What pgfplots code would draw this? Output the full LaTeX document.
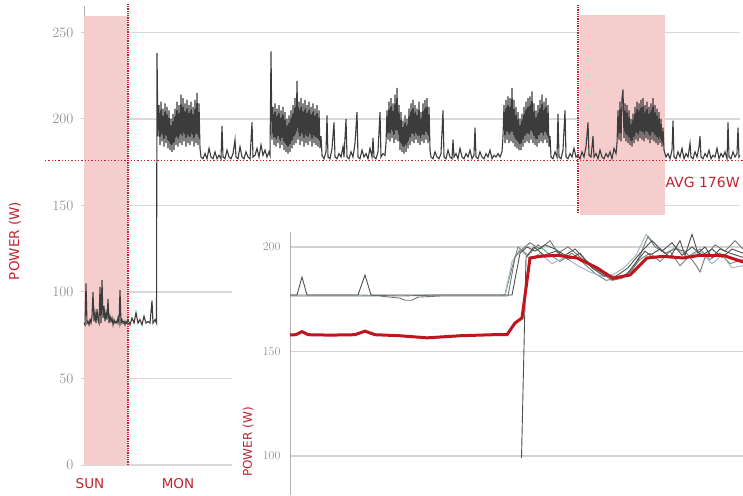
\documentclass[border=0pt]{standalone}
\usepackage{fontspec}
\usepackage{pgfplots}
\pgfplotsset{compat=1.18}
\newfontfamily\labelfont{DejaVu Sans}
\definecolor{lblred}{HTML}{C0232F}
\definecolor{dotred}{HTML}{C8202C}
\definecolor{shade}{HTML}{F5CDCD}
\definecolor{series}{HTML}{3C3C3C}
\definecolor{thickred}{HTML}{C0141E}
\definecolor{g1}{HTML}{505050}
\definecolor{g2}{HTML}{767676}
\definecolor{g3}{HTML}{6D8C7A}
\definecolor{g4}{HTML}{A0B4C0}
\begin{document}
\begin{tikzpicture}[x=1pt,y=1pt]
\path[use as bounding box] (0,0) rectangle (743,495);
\clip (0,0) rectangle (743,495);
% ---------------- main axis ----------------
\begin{axis}[at={(84pt,30pt)}, anchor=south west, scale only axis,
  width=656pt, height=458.5pt,
  xmin=84, xmax=740, ymin=0, ymax=265,
  hide x axis, xtick=\empty, axis y line*=left,
  y axis line style={gray!60, line width=0.8pt},
  ytick={0,50,100,150,200,250},
  ymajorgrids, grid style={gray!30, line width=1.2pt},
  tick align=outside, major tick length=3pt,
  ytick style={gray!40, line width=1pt},
  yticklabel style={text=gray!85, font=\fontsize{14}{14}\selectfont, xshift=-4pt},
  clip=false]
% shaded periods
\addplot[draw=none, fill=shade, forget plot] coordinates {(84,0) (84,259.5) (128,259.5) (128,0)} --cycle;
\addplot[draw=none, fill=shade, forget plot] coordinates {(580,144.5) (580,260) (665,260) (665,144.5)} --cycle;
% power series
\addplot[series, line width=1.1pt] coordinates {
(84,82) (85,81) (86,105) (87,82) (88,83) (89,81) (90,84) (91,82) (92,86) (93,100) (94,83) (95,88) (96,82) (97,90) (98,84) (99,82) (100,103) (101,82) (102,107) (103,85) (104,92) (105,83) (106,88) (107,84) (108,96) (109,82) (110,86) (111,83) (112,85) (113,81) (114,84) (115,82) (116,83) (117,82) (118,85) (119,82) (120,101) (121,82) (122,84) (123,82) (124,83) (125,81) (126,83) (127,82) (128,84) (130,81) (132,85) (134,82) (136,88) (138,82) (140,84) (142,81) (144,86) (146,82) (148,83) (150,82) (152,95) (153,82) (155,84) (156.5,82) (157,238)
(158,190) (159,208) (160,185) (161,210) (162,187) (163,206) (164,184) (165,209) (166,186) (167,207) (168,183) (169,205) (170,182) (171,200) (172,181) (173,203) (174,182) (175,206) (176,185) (177,210) (178,184) (179,208) (180,186) (181,214) (182,185) (183,212) (184,187) (185,209) (186,184) (187,211) (188,186) (189,208) (190,185) (191,210) (192,187) (193,207) (194,184) (195,211) (196,186) (197,215) (198,185) (199,209) (200,183)
(201,178) (203,177) (205,180) (207,177) (209,183) (211,178) (213,177) (215,181) (217,177) (219,179) (221,177) (222,196) (223,178) (225,177) (227,182) (229,178) (231,177) (233,180) (235,188) (236,178) (238,177) (240,184) (242,178) (244,177) (246,181) (248,178) (250,177) (252,198) (253,178) (255,179) (257,183) (259,178) (261,185) (263,179) (265,182) (267,178) (269,181) (270,179) (271,239)
(272,188) (273,207) (274,185) (275,209) (276,184) (277,206) (278,186) (279,208) (280,183) (281,205) (282,185) (283,207) (284,182) (285,204) (286,181) (287,200) (288,180) (289,202) (290,181) (291,205) (292,183) (293,208) (294,185) (295,212) (296,186) (297,222) (298,188) (299,210) (300,185) (301,212) (302,187) (303,209) (304,184) (305,211) (306,186) (307,208) (308,185) (309,210) (310,187) (311,207) (312,184) (313,209) (314,186) (315,206) (316,185) (317,208) (318,184) (319,205) (320,183) (321,190) (322,179)
(324,177) (326,181) (327,202) (328,178) (330,177) (332,183) (334,198) (335,178) (337,177) (339,180) (341,178) (343,184) (344,178) (346,200) (347,178) (349,177) (351,181) (353,178) (355,186) (357,204) (358,178) (360,177) (362,182) (364,178) (366,180) (368,177) (370,183) (372,178) (373,189) (374,178) (376,177) (378,181) (380,204) (381,178) (383,180) (385,179)
(386,186) (387,205) (388,188) (389,210) (390,187) (391,212) (392,189) (393,209) (394,186) (395,214) (396,188) (397,218) (398,187) (399,208) (400,182) (401,204) (402,181) (403,199) (404,180) (405,202) (406,181) (407,200) (408,183) (409,206) (410,185) (411,209) (412,187) (413,211) (414,186) (415,208) (416,188) (417,206) (418,186) (419,210) (420,185) (421,204) (422,187) (423,209) (424,186) (425,211) (426,188) (427,212) (428,186) (429,207) (430,182)
(431,178) (433,177) (435,181) (437,178) (439,177) (441,180) (443,205) (444,178) (446,177) (448,182) (450,178) (452,177) (453,188) (454,178) (456,180) (458,177) (460,183) (462,178) (464,177) (466,180) (468,178) (470,182) (472,177) (474,179) (475,195) (476,178) (478,177) (480,181) (482,178) (484,177) (486,180) (488,178) (490,182) (492,177) (494,179) (496,178) (498,180) (500,178) (502,181)
(503,190) (504,208) (505,186) (506,211) (507,188) (508,213) (509,186) (510,212) (511,187) (512,218) (513,186) (514,211) (515,184) (516,207) (517,183) (518,204) (519,182) (520,200) (521,182) (522,203) (523,184) (524,207) (525,186) (526,210) (527,187) (528,212) (529,186) (530,213) (531,188) (532,216) (533,186) (534,209) (535,185) (536,205) (537,184) (538,208) (539,186) (540,211) (541,187) (542,214) (543,186) (544,210) (545,188) (546,212) (547,186) (548,208) (549,184) (550,190)
(551,178) (553,177) (555,181) (557,178) (558,203) (559,178) (561,177) (563,182) (565,205) (566,178) (568,177) (570,180) (572,178) (574,183) (576,178) (578,179) (580,177) (582,181) (584,178) (586,184) (588,198) (589,179) (591,178) (593,190) (594,178) (596,180) (598,177) (600,182) (602,178) (604,177) (606,180) (608,178) (610,181) (612,177) (614,183) (616,180)
(617,186) (618,205) (619,188) (620,210) (621,187) (622,212) (623,217) (624,189) (625,209) (626,187) (627,208) (628,186) (629,205) (630,185) (631,200) (632,184) (633,203) (634,186) (635,207) (636,188) (637,210) (638,187) (639,209) (640,189) (641,211) (642,188) (643,212) (644,187) (645,208) (646,189) (647,210) (648,188) (649,207) (650,186) (651,209) (652,188) (653,212) (654,187) (655,208) (656,186) (657,206) (658,185) (659,204) (660,186) (661,200) (662,184) (663,195) (664,182)
(666,178) (668,180) (670,177) (672,182) (673,199) (674,178) (676,177) (678,181) (680,178) (682,183) (684,177) (686,180) (688,178) (690,186) (691,178) (693,177) (695,181) (697,178) (699,184) (700,190) (701,178) (703,177) (705,180) (707,178) (709,182) (711,177) (713,179) (715,178) (717,183) (719,177) (721,180) (723,178) (725,181) (727,177) (728,198) (729,178) (731,177) (733,181) (735,178) (737,180) (738,195) (739,178) (740,179)
};
% average and day separators
\addplot[dotred, line width=1.3pt, dotted] coordinates {(45,176) (743,176)};
\addplot[dotred, line width=1.3pt, densely dotted] coordinates {(128,0) (128,266.5)};
\addplot[dotred, line width=1.3pt, densely dotted] coordinates {(578,145.7) (578,266.5)};
\end{axis}
\node[anchor=west, text=lblred, font=\labelfont\fontsize{14}{14}\selectfont] at (662,313) {AVG 176W};
\node[text=lblred, font=\labelfont\fontsize{13.5}{14}\selectfont] at (90,11) {SUN};
\node[text=lblred, font=\labelfont\fontsize{13.5}{14}\selectfont] at (178,11) {MON};
\node[rotate=90, text=lblred, font=\labelfont\fontsize{13.5}{14}\selectfont] at (15,254) {POWER (W)};
% ---------------- inset ----------------
\fill[white] (232,0) rectangle (743,263);
\begin{axis}[at={(290pt,0pt)}, anchor=south west, scale only axis,
  width=455pt, height=262.7pt,
  xmin=290, xmax=745, ymin=81.3, ymax=207,
  hide x axis, xtick=\empty, axis y line*=left,
  y axis line style={gray!60, line width=0.8pt},
  ytick={100,150,200},
  ymajorgrids, grid style={gray!35, line width=1.2pt},
  major tick length=0pt,
  yticklabel style={text=gray!85, font=\fontsize{12}{12}\selectfont, xshift=-6pt},
  clip=false]
\addplot[g3, line width=0.9pt] coordinates {(290,177) (320,177) (360,177) (400,176.5) (440,177) (480,177) (505,177) (512,190) (518,200) (528,196) (538,201) (548,197) (560,193) (572,197) (584,192) (596,187) (606,184) (618,185) (630,188) (640,194) (650,197) (660,193) (670,198) (680,191) (690,196) (700,199) (710,194) (720,197) (730,192) (743,194)};
\addplot[g4, line width=0.9pt] coordinates {(500,177) (505,177) (512,193) (520,199) (530,194) (540,197) (552,192) (565,195) (578,191) (590,188) (602,186) (614,187) (624,190) (636,196) (646,206) (656,201) (666,197) (676,200) (688,195) (700,198) (712,192) (722,196) (732,190) (743,191)};
\addplot[g2, line width=0.9pt] coordinates {(290,176.5) (330,176.5) (380,176.5) (400,175.5) (405,174.5) (412,174.5) (418,176) (440,176.5) (480,176.5) (508,176.5) (515,195) (520,198) (530,202) (540,199) (550,203) (558,197) (568,200) (578,196) (590,191) (600,188) (612,184) (622,185) (632,189) (640,196) (648,205) (655,200) (665,197) (675,199) (685,198) (695,192) (700,188) (705,195) (715,201) (725,198) (735,203) (743,199)};
\addplot[g1, line width=0.9pt] coordinates {(290,177) (297,177) (302,185.6) (307,177) (340,177) (358,177) (365,186.6) (371,177) (420,177) (470,177) (512,177) (520,197) (527,200) (535,198) (545,201) (555,199) (565,196) (575,199) (585,194) (595,190) (605,187) (615,185) (625,186) (635,192) (645,198) (650,196) (660,199) (670,195) (680,203) (685,196) (692,206) (698,197) (705,200) (712,195) (720,199) (730,197) (743,195)};
\addplot[g1, line width=0.9pt] coordinates {(521.5,99) (526,195) (534,200) (544,196) (556,198) (568,194) (580,197) (592,190) (604,186) (616,186) (628,190) (640,197) (652,203) (662,198) (672,202) (682,196) (692,200) (702,196) (712,199) (722,195) (732,199) (743,197)};
\addplot[thickred, line width=3pt] coordinates {(290,157.9) (296,158) (302,159.5) (308,158) (330,157.8) (355,158) (365,159.7) (375,158) (400,157.5) (427,156.5) (460,157.5) (493,158) (507,158) (515,163.6) (522,166) (530,194.7) (540,195.5) (557,196) (577,194.7) (597,190) (613,185) (630,186.6) (647,194.7) (663,195.5) (683,194.7) (700,196) (723,196) (743,192.8)};
\end{axis}
\node[rotate=90, text=lblred, font=\labelfont\fontsize{12}{13}\selectfont] at (248,53) {POWER (W)};
\end{tikzpicture}
\end{document}
